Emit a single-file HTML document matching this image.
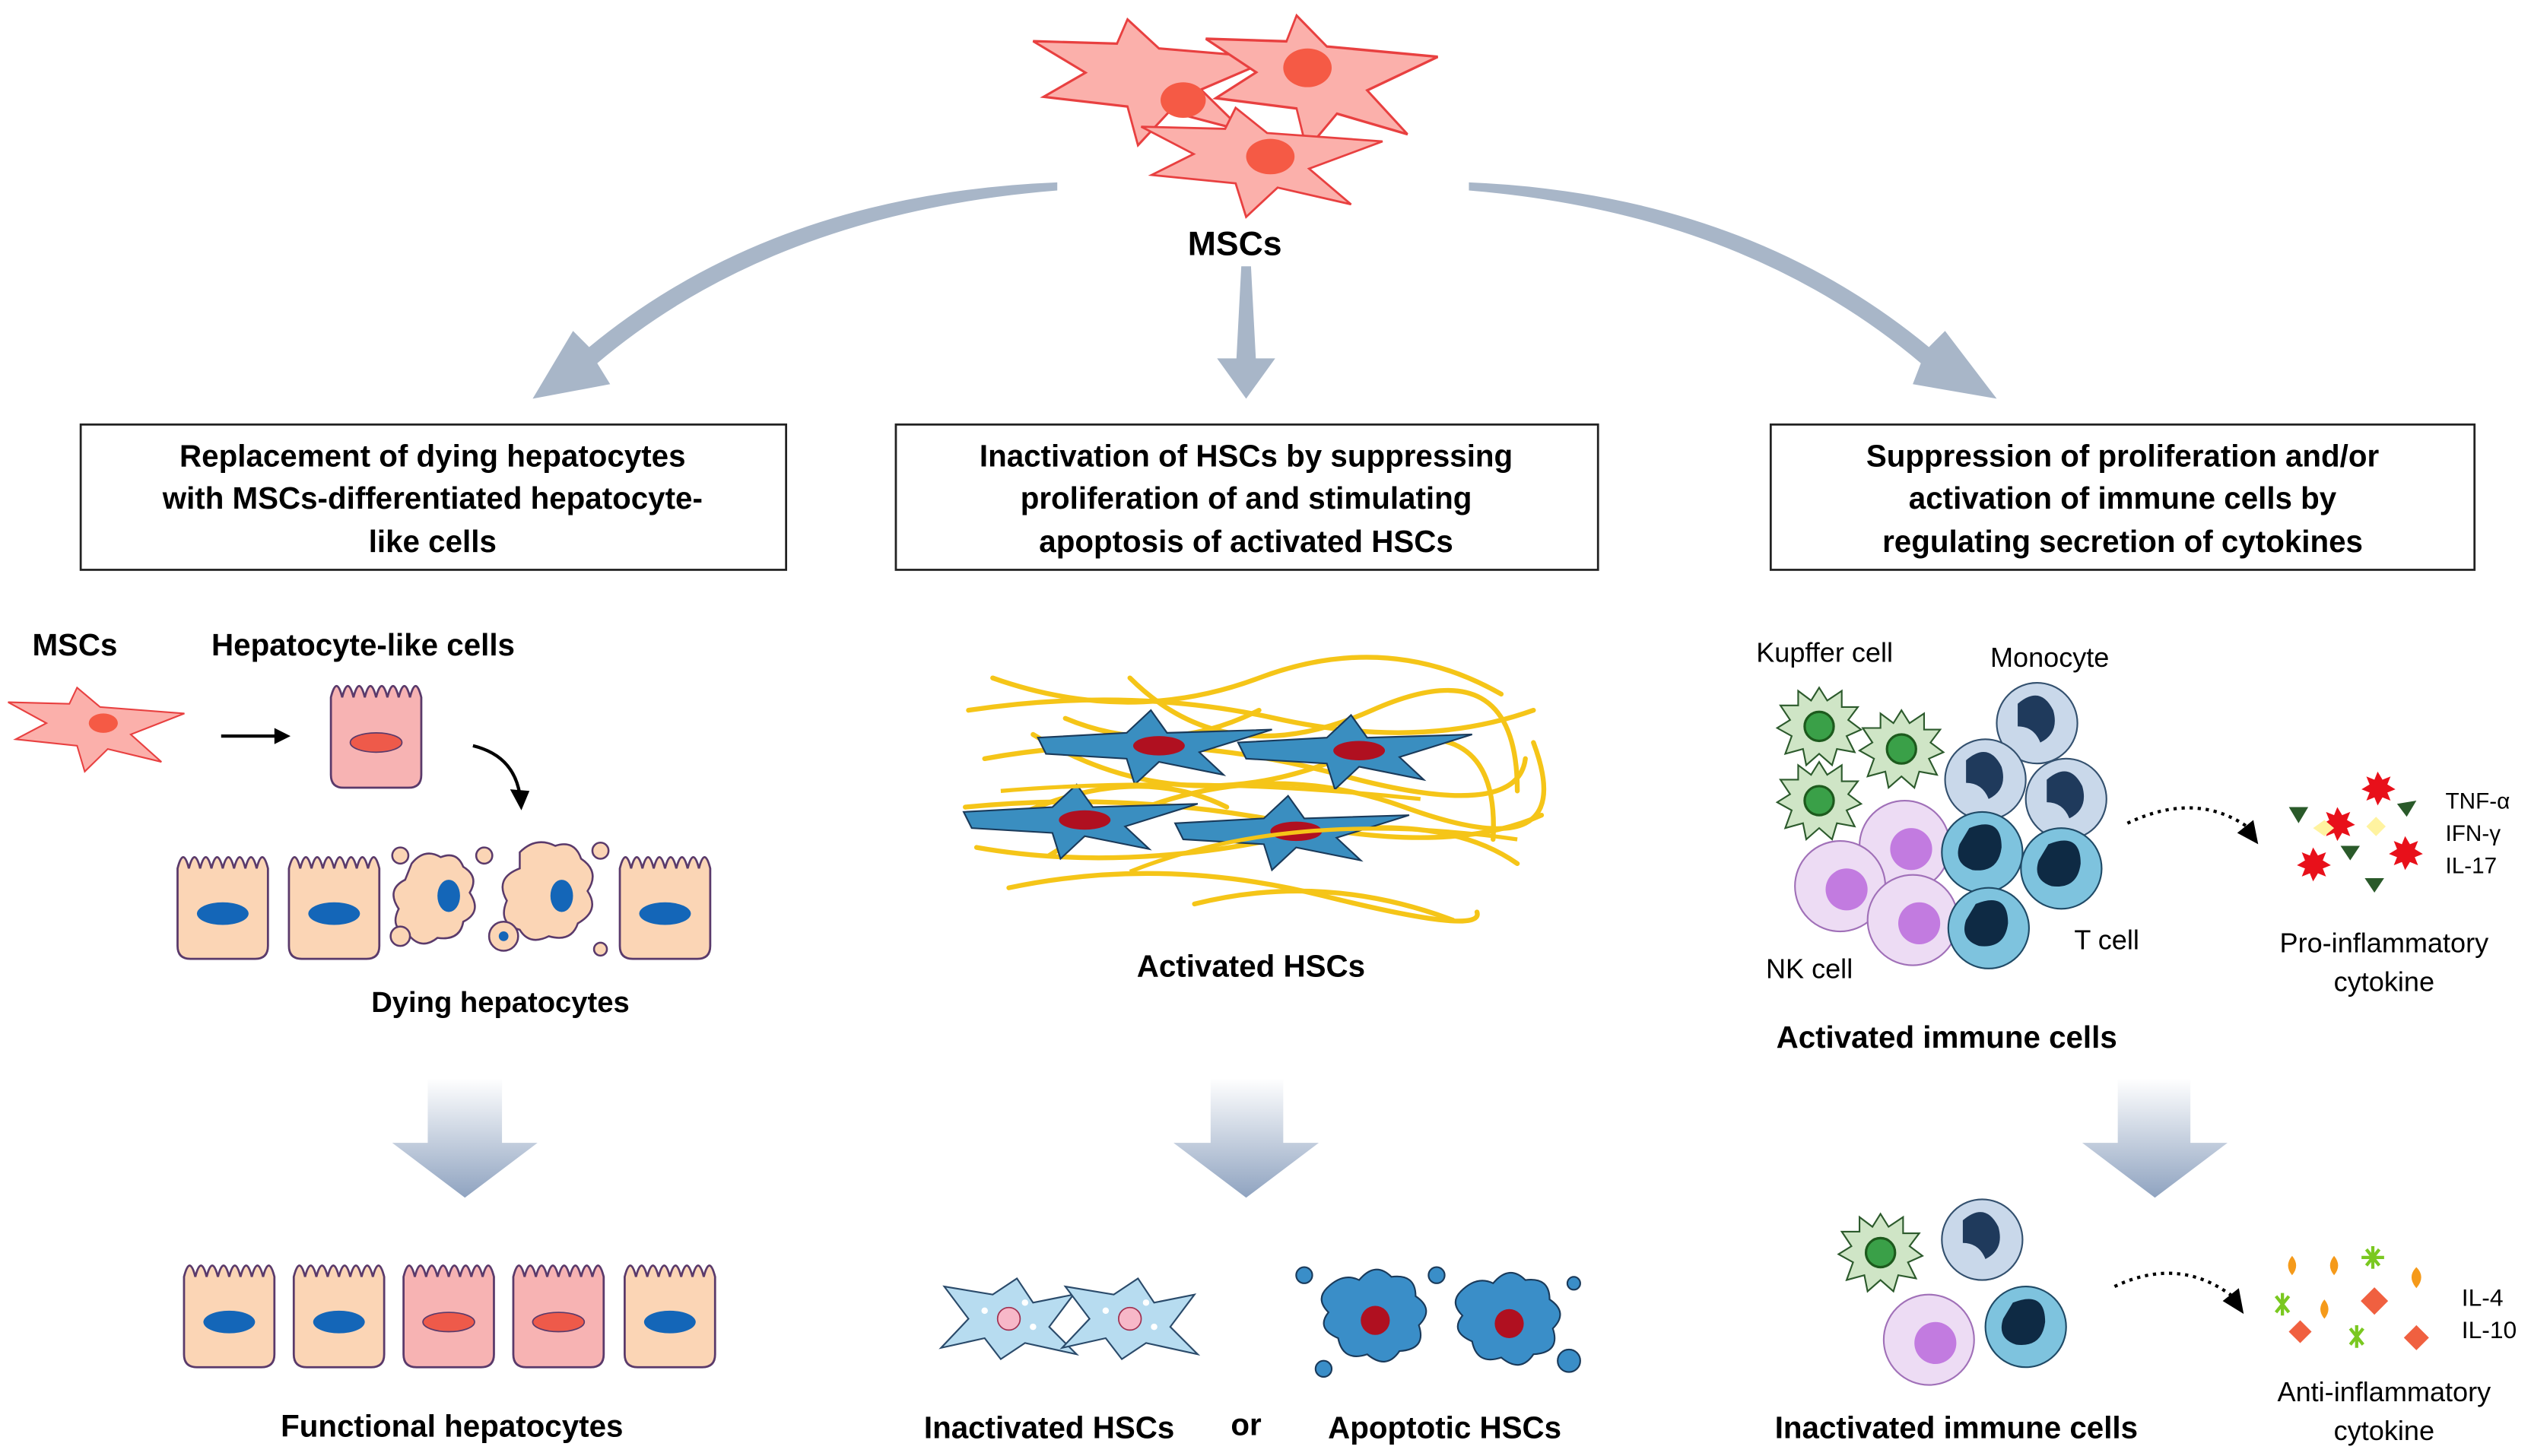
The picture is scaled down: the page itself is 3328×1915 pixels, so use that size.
<!DOCTYPE html>
<html><head><meta charset="utf-8"><style>
html,body{margin:0;padding:0;background:#fff;}
svg{display:block;}
text{font-family:"Liberation Sans",Arial,sans-serif;fill:#000;}
.b{font-weight:bold;}
</style></head><body>
<svg width="3328" height="1915" viewBox="0 0 1568 902" preserveAspectRatio="none" xmlns="http://www.w3.org/2000/svg">
<defs>
<linearGradient id="g" x1="0" y1="0" x2="0" y2="1"><stop offset="0" stop-color="#ffffff"/><stop offset="1" stop-color="#8fa3c0"/></linearGradient>
<path id="msc" d="M-60,-15 L-20,-14 L-15,-24 L0,-12 L55,-8 L20,5 L40,22 L5,14 L-10,28 L-15,12 L-55,8 L-35,-2 Z" fill="#fbb0ab" stroke="#e84040" stroke-width="1"/>
<path id="hb" d="M2,14 q3.5,-14 7,0 q3.5,-14 7,0 q3.5,-14 7,0 q3.5,-14 7,0 q3.5,-14 7,0 q3.5,-14 7,0 q3.5,-14 7,0 q3.5,-14 7,0 L58,62 q0,8 -8,8 L10,70 q-8,0 -8,-8 Z"/>
<g id="hep"><use href="#hb" fill="#fbd5b5" stroke="#5a3a6b" stroke-width="1.3"/><ellipse cx="30" cy="42" rx="16" ry="7" fill="#1466b8"/></g>
<g id="hepp"><use href="#hb" fill="#f7b3b3" stroke="#5a3a6b" stroke-width="1.3"/><ellipse cx="30" cy="42" rx="16" ry="6" fill="#ee5a4a" stroke="#5a3a6b" stroke-width="0.8"/></g>
<g id="hsc"><path d="M-75,-5 L-20,-8 L-5,-22 L5,-8 L70,-10 L25,4 L40,18 L0,10 L-15,24 L-20,8 L-70,5 Z" fill="#3a8ec0" stroke="#1a3a5a" stroke-width="1"/><ellipse cx="0" cy="0" rx="16" ry="6" fill="#b01020"/></g>
<g id="kup"><path d="M0,-24 L5,-16 L14,-22 L14,-12 L24,-12 L18,-4 L26,2 L17,6 L22,16 L11,14 L8,24 L0,17 L-8,24 L-10,14 L-21,17 L-17,6 L-26,1 L-18,-4 L-24,-13 L-13,-13 L-13,-22 L-5,-16 Z" fill="#cfe5c6" stroke="#2c5a2c" stroke-width="1"/><circle r="9" fill="#3aa048" stroke="#1d5a1d" stroke-width="1.5"/></g>
<g id="mono"><circle r="25" fill="#c9d8ea" stroke="#33506e" stroke-width="1"/><path d="M-12,-12 q14,-12 22,4 q4,14 -8,20 q-4,-10 -14,-10 z" fill="#1f3a5c"/></g>
<g id="tc"><circle r="25" fill="#7ec3de" stroke="#1f4a66" stroke-width="1"/><path d="M-8,-15 q20,-8 20,12 q-2,16 -18,14 q-12,-4 -8,-16 z" fill="#0e2a44"/></g>
<g id="nk"><circle r="28" fill="#eddcf4" stroke="#a070b8" stroke-width="1"/><circle cx="4" cy="2" r="13" fill="#c27be0"/></g>
<g id="ihsc"><path d="M-40,-20 L-10,-15 L5,-25 L15,-10 L40,-15 L25,5 L42,22 L10,15 L-5,25 L-15,12 L-42,18 L-25,0 Z" fill="#b7dcf0" stroke="#2a4a6a" stroke-width="1"/><circle r="7" fill="#f7b8c8" stroke="#a03050" stroke-width="0.8"/><circle cx="-15" cy="-5" r="2" fill="#fff"/><circle cx="15" cy="5" r="2" fill="#fff"/><circle cx="10" cy="-10" r="2" fill="#fff"/></g>
<g id="ahsc"><path d="M-30,-20 q10,-10 20,-5 q10,-12 20,-2 q15,-2 15,12 q12,8 2,18 q5,15 -12,16 q-8,12 -20,2 q-15,5 -18,-10 q-14,-6 -6,-16 q-8,-8 -1,-15z" fill="#3a8ec8" stroke="#1a3a5a" stroke-width="1"/><circle cx="0" cy="0" r="9" fill="#b01020"/></g>
</defs>

<use href="#msc" transform="translate(718,48) scale(1.3,1.5)"/>
<use href="#msc" transform="translate(822,48) scale(1.25,1.6)"/>
<use href="#msc" transform="translate(785,98) scale(1.3,1.3)"/>
<ellipse cx="733" cy="62" rx="14" ry="11" fill="#f55a45"/>
<ellipse cx="810" cy="42" rx="15" ry="12" fill="#f55a45"/>
<ellipse cx="787" cy="97" rx="15" ry="11" fill="#f55a45"/>
<text x="765" y="158" class="b" font-size="21" text-anchor="middle">MSCs</text>

<g fill="#a8b6c8">
<path d="M655,113 Q480,120 365,215 L355,205 L330,247 L378,238 L370,225 Q480,132 655,118 Z"/>
<path d="M769,165 L775,165 L778,222 L790,222 L772,247 L754,222 L766,222 Z"/>
<path d="M910,113 Q1080,120 1195,215 L1205,205 L1237,247 L1185,238 L1190,225 Q1080,132 910,118 Z"/>
</g>

<g fill="#fff" stroke="#222" stroke-width="1.3">
<rect x="50" y="263" width="437" height="90"/>
<rect x="555" y="263" width="435" height="90"/>
<rect x="1097" y="263" width="436" height="90"/>
</g>
<g class="b" font-size="19" text-anchor="middle">
<text x="268" y="289" class="b">Replacement of dying hepatocytes</text>
<text x="268" y="315" class="b">with MSCs-differentiated hepatocyte-</text>
<text x="268" y="342" class="b">like cells</text>
<text x="772" y="289" class="b">Inactivation of HSCs by suppressing</text>
<text x="772" y="315" class="b">proliferation of and stimulating</text>
<text x="772" y="342" class="b">apoptosis of activated HSCs</text>
<text x="1315" y="289" class="b">Suppression of proliferation and/or</text>
<text x="1315" y="315" class="b">activation of immune cells by</text>
<text x="1315" y="342" class="b">regulating secretion of cytokines</text>
</g>

<text x="20" y="406" class="b" font-size="19">MSCs</text>
<text x="131" y="406" class="b" font-size="19">Hepatocyte-like cells</text>
<use href="#msc" transform="translate(62,450) scale(0.95,1)"/>
<ellipse cx="64" cy="448" rx="9" ry="6" fill="#f55a45"/>
<path d="M137,456 L172,456" stroke="#000" stroke-width="2"/><path d="M180,456 L170,451 L170,461 Z"/>
<use href="#hepp" transform="translate(203,418)"/>
<path d="M293,462 Q318,468 322,492" stroke="#000" stroke-width="2" fill="none"/><path d="M323,502 L316,489 L328,490 Z"/>
<use href="#hep" transform="translate(108,524)"/>
<use href="#hep" transform="translate(177,524)"/>
<g fill="#fbd5b5" stroke="#5a3a6b" stroke-width="1.2">
<path d="M255,535 q8,-10 18,-4 q10,-4 14,6 q10,6 4,16 q8,12 -4,18 q-2,12 -16,10 q-10,8 -18,-2 q-12,-4 -6,-16 q-8,-12 4,-18 z"/>
<path d="M322,528 q10,-10 22,-4 q12,-4 16,8 q12,8 4,20 q8,12 -6,20 q-4,12 -18,8 q-12,6 -18,-4 q-14,-4 -8,-18 q-8,-14 8,-20 z"/>
<circle cx="248" cy="530" r="5"/><circle cx="248" cy="580" r="6"/><circle cx="312" cy="580" r="9"/><circle cx="372" cy="527" r="5"/><circle cx="372" cy="588" r="4"/><circle cx="300" cy="530" r="5"/>
</g>
<ellipse cx="278" cy="555" rx="7" ry="10" fill="#1466b8"/>
<ellipse cx="348" cy="555" rx="7" ry="10" fill="#1466b8"/>
<circle cx="312" cy="580" r="3" fill="#1466b8"/>
<use href="#hep" transform="translate(382,524)"/>
<text x="310" y="627" class="b" font-size="18" text-anchor="middle">Dying hepatocytes</text>
<path d="M265,668 L311,668 L311,708 L333,708 L288,742 L243,708 L265,708 Z" fill="url(#g)"/>
<use href="#hep" transform="translate(112,777)"/>
<use href="#hep" transform="translate(180,777)"/>
<use href="#hepp" transform="translate(248,777)"/>
<use href="#hepp" transform="translate(316,777)"/>
<use href="#hep" transform="translate(385,777)"/>
<text x="280" y="890" class="b" font-size="19" text-anchor="middle">Functional hepatocytes</text>

<g stroke="#f5c518" stroke-width="3" fill="none" stroke-linecap="round">
<path d="M600,440 Q700,425 790,445 T950,440"/><path d="M610,470 Q720,450 830,480 T945,470"/>
<path d="M598,500 Q700,490 800,510 T955,505"/><path d="M605,525 Q690,540 790,520 T940,535"/>
<path d="M615,420 Q700,450 780,420 T930,430"/><path d="M625,550 Q720,530 820,555 T915,565"/>
<path d="M640,455 Q730,510 830,470 T925,520"/><path d="M650,530 Q760,460 870,500 T950,460"/>
<path d="M700,420 Q760,480 850,440 T940,490"/><path d="M620,510 Q700,470 760,500"/>
<path d="M740,560 Q820,540 900,570"/><path d="M660,445 Q720,470 780,440"/>
</g>
<use href="#hsc" transform="translate(718,462)"/>
<use href="#hsc" transform="translate(842,465)"/>
<use href="#hsc" transform="translate(672,508)"/>
<use href="#hsc" transform="translate(803,515)"/>
<g stroke="#f5c518" stroke-width="2.5" fill="none"><path d="M620,490 Q740,480 880,495"/><path d="M700,540 Q800,500 940,520"/></g>
<text x="775" y="605" class="b" font-size="19" text-anchor="middle">Activated HSCs</text>
<path d="M750,668 L795,668 L795,708 L817,708 L772,742 L727,708 L750,708 Z" fill="url(#g)"/>
<use href="#ihsc" transform="translate(625,817)"/>
<use href="#ihsc" transform="translate(700,817)"/>
<use href="#ahsc" transform="translate(852,818)"/>
<use href="#ahsc" transform="translate(935,820)"/>
<g fill="#3a8ec8" stroke="#1a3a5a" stroke-width="1"><circle cx="808" cy="790" r="5"/><circle cx="820" cy="848" r="5"/><circle cx="890" cy="790" r="5"/><circle cx="972" cy="843" r="7"/><circle cx="975" cy="795" r="4"/></g>
<text x="650" y="891" class="b" font-size="19" text-anchor="middle">Inactivated HSCs</text>
<text x="772" y="889" class="b" font-size="19" text-anchor="middle">or</text>
<text x="895" y="891" class="b" font-size="19" text-anchor="middle">Apoptotic HSCs</text>

<text x="1088" y="410" font-size="17">Kupffer cell</text>
<text x="1233" y="413" font-size="17">Monocyte</text>
<use href="#kup" transform="translate(1127,450)"/>
<use href="#kup" transform="translate(1178,464)"/>
<use href="#kup" transform="translate(1127,496)"/>
<use href="#mono" transform="translate(1262,448)"/>
<use href="#mono" transform="translate(1230,483)"/>
<use href="#mono" transform="translate(1280,495)"/>
<use href="#nk" transform="translate(1180,524)"/>
<use href="#nk" transform="translate(1140,549)"/>
<use href="#nk" transform="translate(1185,570)"/>
<use href="#tc" transform="translate(1228,528)"/>
<use href="#tc" transform="translate(1277,538)"/>
<use href="#tc" transform="translate(1232,575)"/>
<text x="1094" y="606" font-size="17">NK cell</text>
<text x="1285" y="588" font-size="17">T cell</text>
<path d="M1318,510 Q1360,490 1392,512" stroke="#000" stroke-width="2" stroke-dasharray="2,3" fill="none"/>
<path d="M1399,523 L1386,516 L1396,508 Z"/>
<g>
<path d="M1473,478 l3,5 5,-2 -2,5 5,3 -5,2 2,5 -5,-2 -3,5 -2,-5 -5,2 2,-5 -5,-2 5,-3 -2,-5 5,2z" fill="#e8101a"/>
<path d="M1448,500 l3,5 5,-2 -2,5 5,3 -5,2 2,5 -5,-2 -3,5 -2,-5 -5,2 2,-5 -5,-2 5,-3 -2,-5 5,2z" fill="#e8101a"/>
<path d="M1433,525 l3,5 5,-2 -2,5 5,3 -5,2 2,5 -5,-2 -3,5 -2,-5 -5,2 2,-5 -5,-2 5,-3 -2,-5 5,2z" fill="#e8101a"/>
<path d="M1490,518 l3,5 5,-2 -2,5 5,3 -5,2 2,5 -5,-2 -3,5 -2,-5 -5,2 2,-5 -5,-2 5,-3 -2,-5 5,2z" fill="#e8101a"/>
<polygon points="1418,500 1430,500 1424,510" fill="#2a5a2a"/><polygon points="1485,498 1497,496 1491,506" fill="#2a5a2a"/>
<polygon points="1450,524 1462,524 1456,533" fill="#2a5a2a"/><polygon points="1465,544 1477,544 1471,553" fill="#2a5a2a"/>
<polygon points="1433,513 1440,508 1446,513 1440,518" fill="#fff3a0"/><polygon points="1466,512 1472,506 1478,512 1472,518" fill="#fff3a0"/>
</g>
<text x="1515" y="501" font-size="14">TNF-α</text>
<text x="1515" y="521" font-size="14">IFN-γ</text>
<text x="1515" y="541" font-size="14">IL-17</text>
<text x="1477" y="590" font-size="17" text-anchor="middle">Pro-inflammatory</text>
<text x="1477" y="614" font-size="17" text-anchor="middle">cytokine</text>
<text x="1206" y="649" class="b" font-size="19" text-anchor="middle">Activated immune cells</text>
<path d="M1312,668 L1357,668 L1357,708 L1380,708 L1335,742 L1290,708 L1312,708 Z" fill="url(#g)"/>
<use href="#kup" transform="translate(1165,776)"/>
<use href="#mono" transform="translate(1228,768)"/>
<use href="#nk" transform="translate(1195,830)"/>
<use href="#tc" transform="translate(1255,822)"/>
<path d="M1310,797 Q1350,778 1383,803" stroke="#000" stroke-width="2" stroke-dasharray="2,3" fill="none"/>
<path d="M1390,814 L1377,806 L1387,798 Z"/>
<g>
<g fill="#f59a1a"><path d="M1420,778 q5,6 0,12 q-5,-6 0,-12z"/><path d="M1446,778 q5,6 0,12 q-5,-6 0,-12z"/><path d="M1497,785 q6,6 0,13 q-6,-7 0,-13z"/><path d="M1440,805 q5,6 0,12 q-5,-6 0,-12z"/></g>
<g fill="#f06040"><rect x="1420" y="820" width="10" height="10" transform="rotate(45 1425 825)"/><rect x="1465" y="800" width="12" height="12" transform="rotate(45 1471 806)"/><rect x="1492" y="823" width="11" height="11" transform="rotate(45 1497 828)"/></g>
<g stroke="#7ac820" stroke-width="2"><path d="M1466,774 l8,10 M1474,774 l-8,10 M1470,772 l0,14 M1463,779 l14,0"/><path d="M1410,803 l8,10 M1418,803 l-8,10 M1414,801 l0,14"/><path d="M1456,823 l8,10 M1464,823 l-8,10 M1460,821 l0,14"/></g>
</g>
<text x="1525" y="809" font-size="15">IL-4</text>
<text x="1525" y="829" font-size="15">IL-10</text>
<text x="1477" y="868" font-size="17" text-anchor="middle">Anti-inflammatory</text>
<text x="1477" y="892" font-size="17" text-anchor="middle">cytokine</text>
<text x="1212" y="891" class="b" font-size="19" text-anchor="middle">Inactivated immune cells</text>
</svg>
</body></html>
